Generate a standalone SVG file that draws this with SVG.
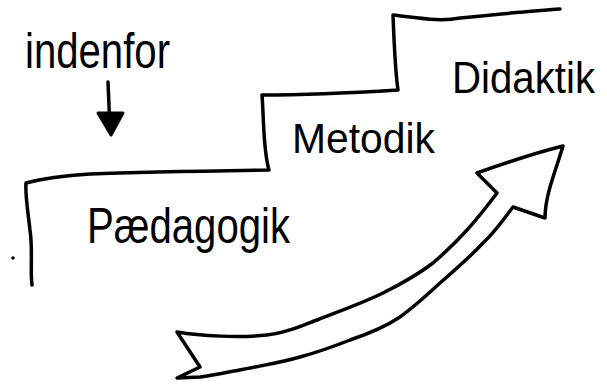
<svg xmlns="http://www.w3.org/2000/svg" width="607" height="385" viewBox="0 0 607 385">
<style>
.ln{fill:none;stroke:#000;stroke-width:3.5;stroke-linecap:round;stroke-linejoin:round}
.tx{font-family:"Liberation Sans","DejaVu Sans",sans-serif;fill:#000}
</style>
<rect width="607" height="385" fill="#fff"/>
<g id="stairs">
<path class="ln" d="M32,285 C30,270 33,250 30,230 C28,212 25,195 26,183 C45,178 75,175 90,174 C140,172 200,171 269,170 C263,150 264,120 262,95 C300,95 350,93 398,90 C395,70 394,40 393,15 C420,18 440,22 460,18 C500,14 530,11 560,9"/>
<circle cx="13" cy="258" r="1.8" fill="#000"/>
</g>
<g id="node-indenfor">
<text class="tx" x="25" y="68" font-size="50" textLength="145" lengthAdjust="spacingAndGlyphs">indenfor</text>
</g>
<g id="node-paedagogik">
<text class="tx" x="87" y="243" font-size="50" textLength="203" lengthAdjust="spacingAndGlyphs">Pædagogik</text>
</g>
<g id="node-metodik">
<text class="tx" x="292" y="153" font-size="43" textLength="143" lengthAdjust="spacingAndGlyphs">Metodik</text>
</g>
<g id="node-didaktik">
<text class="tx" x="452" y="93" font-size="44" textLength="143" lengthAdjust="spacingAndGlyphs">Didaktik</text>
</g>
<g id="connectors">
<path class="ln" d="M108,82 L110,130"/>
<path d="M98,113 L123,113 L111,135 Z" fill="#000" stroke="#000" stroke-width="3" stroke-linejoin="round"/>
<path class="ln" d="M177,332 C200,336 240,338 267,335 C290,332 300,326 317,320 C345,309 365,302 383,293 C405,282 420,273 433,263 C448,250 458,240 467,230 C478,218 488,205 497,193 L477,173 C505,163 535,153 563,146 C556,170 545,195 545,218 L513,207 C503,220 495,232 483,243 C470,257 455,270 440,283 C427,295 415,306 400,317 C385,327 368,334 350,340 C335,346 318,352 300,357 C283,362 265,365 250,368 C233,371 215,375 200,377 L177,378 L200,367 Z"/>
</g>
</svg>
